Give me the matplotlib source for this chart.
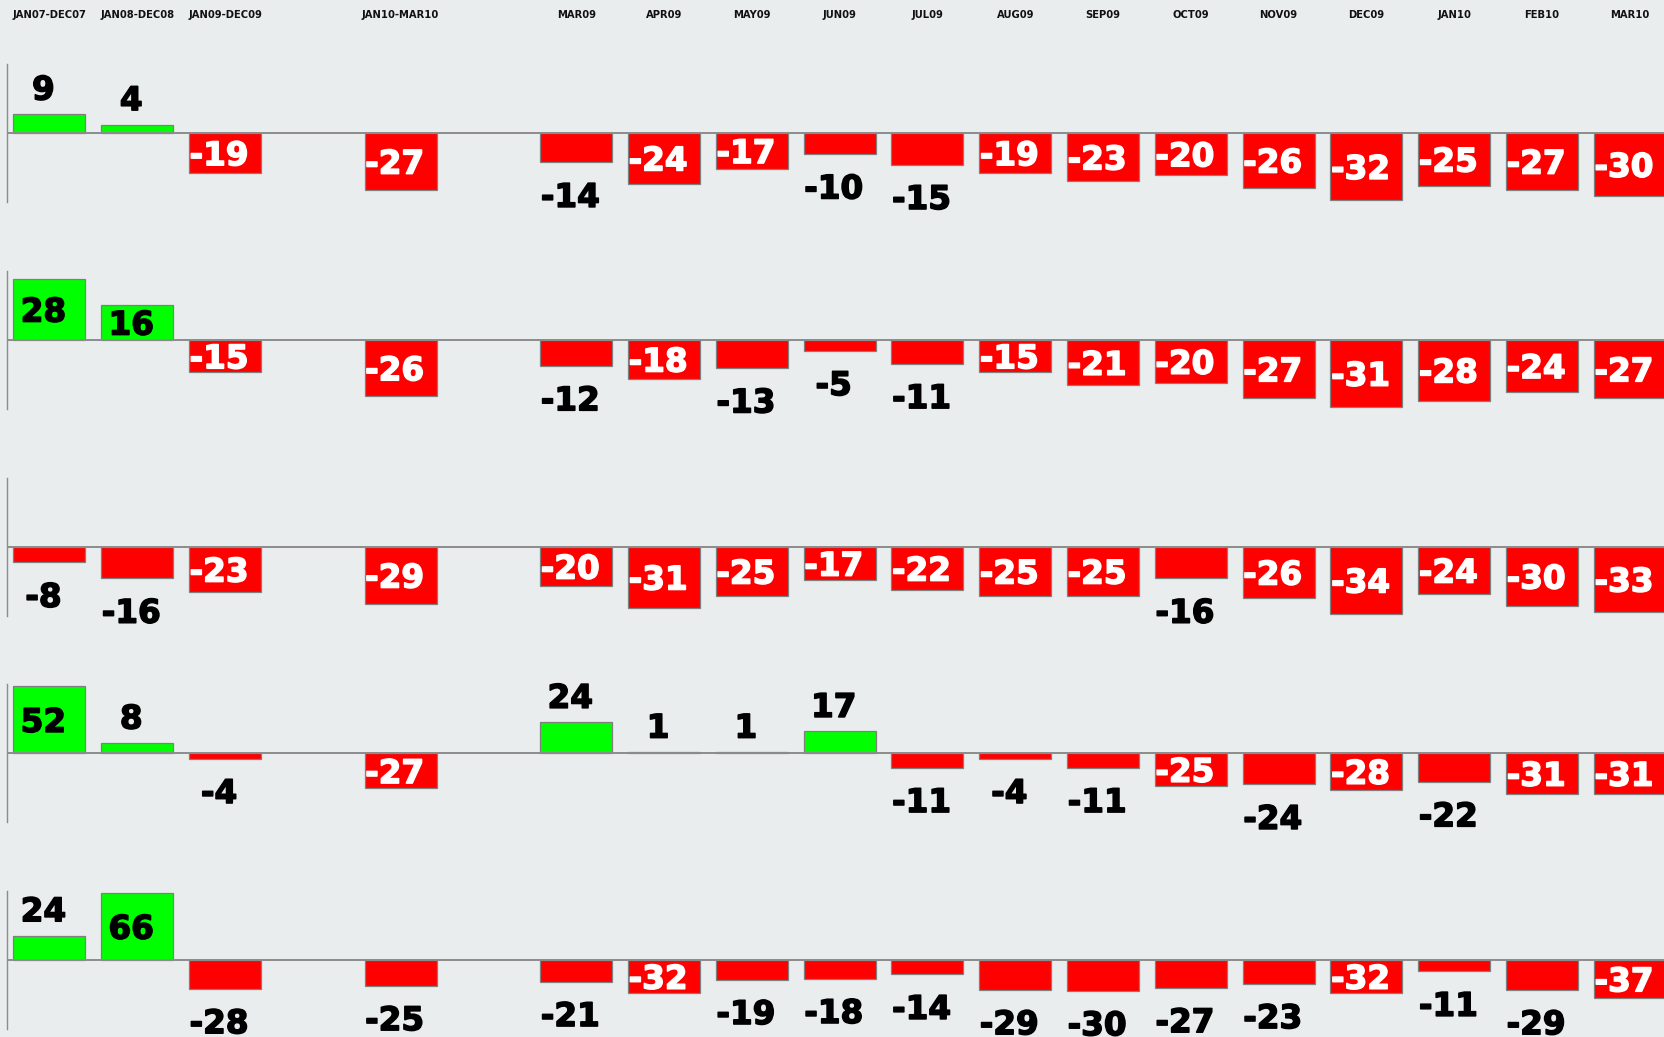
import matplotlib
matplotlib.use("Agg")
import matplotlib.pyplot as plt
import matplotlib.patheffects as pe
from matplotlib.transforms import blended_transform_factory

# ---------------- data ----------------
categories = ["JAN07-DEC07", "JAN08-DEC08", "JAN09-DEC09", "JAN10-MAR10",
              "MAR09", "APR09", "MAY09", "JUN09", "JUL09", "AUG09", "SEP09",
              "OCT09", "NOV09", "DEC09", "JAN10", "FEB10", "MAR10"]
positions = [0, 1, 2, 4, 6, 7, 8, 9, 10, 11, 12, 13, 14, 15, 16, 17, 18]

row1 = [9, 4, -19, -27, -14, -24, -17, -10, -15, -19, -23, -20, -26, -32, -25, -27, -30]
row2 = [28, 16, -15, -26, -12, -18, -13, -5, -11, -15, -21, -20, -27, -31, -28, -24, -27]
row3 = [-8, -16, -23, -29, -20, -31, -25, -17, -22, -25, -25, -16, -26, -34, -24, -30, -33]
row4 = [52, 8, -4, -27, 24, 1, 1, 17, -11, -4, -11, -25, -24, -28, -22, -31, -31]
row5 = [24, 66, -28, -25, -21, -32, -19, -18, -14, -29, -30, -27, -23, -32, -11, -29, -37]
rows = [row1, row2, row3, row4, row5]

# ---------------- style ----------------
BG = "#e9eded"
GREEN = "#00ff00"
RED = "#ff0000"
EDGE = "#7f7f7f"
AXIS = "#8c8c8c"

W, H = 1665, 1037
fig = plt.figure(figsize=(W / 100, H / 100), dpi=100)
fig.patch.set_facecolor(BG)

left_px = 6.7
half_px = 69.0
x_min, x_max = -0.486, 18.40
axes_list = []
for k, vals in enumerate(rows):
    zero_px = 133.0 + 206.8 * k
    ax = fig.add_axes([left_px / W, 1 - (zero_px + half_px) / H,
                       1 - left_px / W, 2 * half_px / H])
    ax.set_facecolor("none")
    M = max(abs(v) for v in vals) * 1.024
    ax.set_ylim(-M, M)
    ax.set_xlim(x_min, x_max)
    colors = [GREEN if v > 0 else RED for v in vals]
    ax.bar(positions, vals, width=0.82, color=colors, edgecolor=EDGE,
           linewidth=0.9, zorder=2)
    ax.axhline(0, color=AXIS, lw=1.4, zorder=3)
    for s in ["top", "right", "bottom"]:
        ax.spines[s].set_visible(False)
    ax.spines["left"].set_color(AXIS)
    ax.spines["left"].set_linewidth(1.0)
    ax.set_xticks([])
    ax.set_yticks([])

    for x, v in zip(positions, vals):
        frac = abs(v) / M
        if frac >= 0.464:
            y, dy = v / 2.0, -8.8
            color = "white" if v < 0 else "black"
        elif v >= 0:
            y, dy, color = v, 10.4, "black"
        else:
            y, dy, color = v, -32.0, "black"
        ax.annotate(str(v), xy=(x, y), xytext=(-4.3, dy),
                    textcoords="offset points", ha="center", va="baseline",
                    fontsize=23.5, fontweight="bold", color=color,
                    family="DejaVu Sans", annotation_clip=False, zorder=5,
                    path_effects=[pe.withStroke(linewidth=1.1, foreground=color)])
    axes_list.append(ax)

# column headers
trans = blended_transform_factory(axes_list[0].transData, fig.transFigure)
for x, name in zip(positions, categories):
    fig.text(x, 1 - 15.3 / H, name, transform=trans, ha="center", va="center",
             fontsize=7.2, fontweight="bold", color="#111111",
             family="DejaVu Sans")

fig.savefig("out.png", dpi=100, facecolor=BG)
